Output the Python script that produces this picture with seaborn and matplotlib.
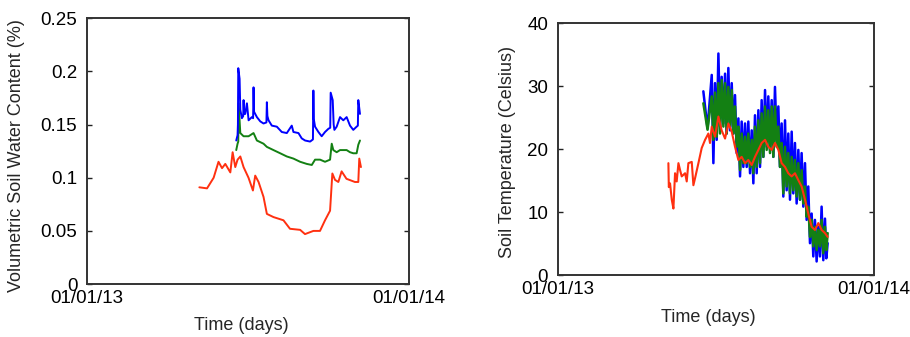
import numpy as np
import pandas as pd
import matplotlib
matplotlib.use("Agg")
import matplotlib.pyplot as plt
import seaborn as sns

# ---------------- data (day of year 2013) ----------------
# Volumetric soil water content
vwc_blue_days = [169.1, 170.6, 171.0, 171.4, 172.9, 173.7, 175.5, 177.0, 177.4, 178.0, 179.3, 181.2,
                 183.1, 186.8, 188.2, 188.7, 189.3, 190.6, 192.5, 196.3, 200.0, 203.3, 203.8, 204.4,
                 205.7, 209.4, 215.1, 220.7, 226.4, 232.0, 233.9, 239.6, 243.3, 247.1, 252.8, 256.0,
                 256.5, 257.0, 258.4, 262.2, 265.9, 269.7, 273.5, 275.6, 276.1, 278.4, 279.5, 280.3,
                 282.9, 286.7, 290.4, 294.2, 298.0, 301.7, 305.5, 306.9, 307.4, 309.3]
vwc_blue = [0.135, 0.140, 0.150, 0.203, 0.193, 0.164, 0.156, 0.158, 0.173, 0.160, 0.160, 0.170,
            0.154, 0.157, 0.156, 0.185, 0.162, 0.160, 0.157, 0.153, 0.151, 0.152, 0.171, 0.158,
            0.154, 0.149, 0.148, 0.143, 0.142, 0.149, 0.143, 0.142, 0.137, 0.135, 0.134, 0.136,
            0.182, 0.155, 0.148, 0.143, 0.139, 0.143, 0.146, 0.147, 0.180, 0.173, 0.150, 0.145,
            0.148, 0.157, 0.154, 0.157, 0.149, 0.145, 0.148, 0.149, 0.173, 0.160]

vwc_green_days = [169.1, 170.6, 171.4, 171.8, 173.7, 177.4, 183.1, 188.7, 192.5, 200.0, 203.8, 211.3,
                  218.9, 226.4, 233.9, 241.5, 249.0, 254.7, 258.4, 264.1, 269.7, 275.4, 277.3, 279.1,
                  282.9, 286.7, 294.2, 298.0, 301.7, 305.5, 307.4, 309.3]
vwc_green = [0.126, 0.132, 0.134, 0.170, 0.142, 0.139, 0.139, 0.142, 0.135, 0.132, 0.129, 0.126,
             0.123, 0.120, 0.118, 0.115, 0.113, 0.112, 0.117, 0.117, 0.115, 0.117, 0.132, 0.126,
             0.124, 0.126, 0.126, 0.124, 0.123, 0.123, 0.131, 0.135]

vwc_red_days = [127.3, 136.0, 143.5, 149.0, 153.0, 156.7, 162.4, 165.0, 168.0, 170.6, 173.7, 177.4,
                183.0, 188.0, 190.6, 194.4, 200.0, 203.8, 211.3, 222.6, 230.0, 241.5, 247.0, 256.5,
                264.0, 269.7, 275.4, 278.0, 281.0, 284.8, 288.5, 294.0, 303.6, 307.4, 308.5, 310.4]
vwc_red = [0.091, 0.090, 0.100, 0.115, 0.109, 0.113, 0.105, 0.124, 0.110, 0.117, 0.120, 0.110,
           0.100, 0.088, 0.102, 0.096, 0.082, 0.066, 0.063, 0.060, 0.052, 0.051, 0.047, 0.050,
           0.050, 0.060, 0.069, 0.104, 0.098, 0.096, 0.106, 0.099, 0.096, 0.096, 0.118, 0.110]

# Soil temperature: daily highs / lows of the two upper sensors
temp_days = [168.2, 177.9, 181.7, 185.6, 189.4, 193.3, 197.1, 201.0, 204.8, 208.7, 212.5, 216.4,
             220.2, 224.1, 227.9, 231.8, 235.6, 239.5, 243.3, 247.2, 251.0, 254.9, 258.7, 262.6,
             266.4, 270.3, 274.1, 278.0, 281.8, 285.7, 289.5, 293.4, 297.2, 301.1, 304.9, 308.8,
             311.9]
temp_blue_high = [29.2, 31.8, 30.5, 35.2, 31.5, 32.0, 32.9, 30.5, 28.6, 24.9, 24.4, 24.1,
                  24.4, 23.0, 25.4, 26.2, 27.8, 29.4, 28.4, 27.8, 29.9, 26.8, 24.1, 24.6,
                  22.5, 22.8, 21.0, 19.9, 19.4, 17.8, 14.1, 9.8, 8.8, 7.7, 10.9, 9.0,
                  5.1]
temp_blue_low = [23.3, 17.8, 21.5, 23.6, 24.1, 22.5, 23.0, 22.5, 19.4, 15.7, 17.2, 17.2,
                 16.2, 14.6, 16.2, 17.2, 18.8, 20.4, 19.9, 18.8, 21.5, 17.2, 12.5, 13.5,
                 12.0, 13.0, 11.4, 12.0, 10.9, 8.8, 5.1, 3.0, 2.2, 3.0, 2.4, 2.7,
                 2.4]
temp_green_high = [27.3, 28.4, 29.0, 30.5, 31.0, 30.5, 29.9, 29.4, 26.8, 23.6, 22.5, 22.0,
                   22.5, 21.5, 23.6, 24.6, 25.7, 26.8, 26.2, 26.8, 26.8, 23.6, 21.0, 20.4,
                   19.4, 18.8, 18.3, 17.8, 16.7, 14.1, 10.9, 8.8, 7.7, 7.2, 8.8, 7.7,
                   6.7]
temp_green_low = [23.1, 21.5, 22.0, 22.5, 23.6, 22.5, 23.6, 22.5, 20.4, 16.7, 17.8, 17.8,
                  17.2, 16.2, 17.2, 17.8, 18.8, 19.9, 19.4, 18.8, 20.4, 17.2, 13.0, 14.1,
                  13.0, 13.5, 12.5, 12.0, 11.4, 9.3, 6.1, 4.6, 4.0, 4.6, 3.5, 4.0,
                  3.5]

# deepest sensor
temp_red_days = [127.8, 128.3, 129.7, 131.7, 133.6, 135.5, 137.4, 139.4, 141.3, 143.2, 147.1, 149.0,
                 150.9, 154.8, 156.7, 158.6, 162.5, 166.3, 170.2, 174.0, 175.9, 177.9, 181.7, 185.6,
                 189.4, 193.3, 197.1, 201.0, 204.8, 208.7, 212.5, 216.4, 220.2, 224.1, 227.9, 231.8,
                 235.6, 239.5, 243.3, 247.2, 251.0, 254.9, 258.7, 262.6, 266.4, 270.3, 274.1, 278.0,
                 281.8, 285.7, 289.5, 293.4, 297.2, 301.1, 304.9, 308.8, 311.9]
temp_red = [17.8, 14.0, 14.6, 12.0, 10.6, 16.2, 14.9, 17.8, 16.7, 15.7, 16.2, 14.9,
            17.8, 18.0, 14.3, 15.4, 17.8, 20.2, 21.5, 22.5, 21.0, 23.6, 22.0, 25.2,
            23.0, 21.7, 24.1, 22.8, 20.4, 18.3, 18.8, 17.8, 18.3, 17.5, 18.8, 19.9,
            21.0, 21.5, 20.4, 19.9, 21.0, 19.9, 17.8, 17.2, 16.2, 15.7, 16.2, 15.1,
            14.1, 12.0, 9.8, 7.7, 7.2, 8.3, 7.2, 6.7, 6.1]

x_tick_days = [0, 365]
x_tick_labels = ["01/01/13", "01/01/14"]
vwc_ticks = [0, 0.05, 0.1, 0.15, 0.2, 0.25]
vwc_tick_labels = ["0", "0.05", "0.1", "0.15", "0.2", "0.25"]
temp_ticks = [0, 10, 20, 30, 40]
temp_tick_labels = ["0", "10", "20", "30", "40"]

BLUE = "#0000ff"
GREEN = "#138013"
RED = "#ff3010"


def diurnal(days, highs, lows):
    """Interleave daily highs and lows into one trace."""
    days = np.asarray(days, float)
    half = np.diff(days, append=days[-1] + (days[-1] - days[-2])) / 2.0
    x = np.column_stack([days, days + half]).ravel()[:-1]
    y = np.column_stack([highs, lows]).ravel()[:-1]
    return pd.DataFrame({"day": x, "value": y})


sns.set_style("white")
plt.rcParams["font.family"] = ["Liberation Sans", "DejaVu Sans"]

fig = plt.figure(figsize=(9.1, 3.37), dpi=100)
ax1 = fig.add_axes([0.0956, 0.157, 0.354, 0.789])
ax2 = fig.add_axes([0.613, 0.183, 0.347, 0.748])

lw = 1.4
sns.lineplot(x=vwc_red_days, y=vwc_red, ax=ax1, color=RED, lw=lw,
             estimator=None, sort=False)
sns.lineplot(x=vwc_green_days, y=vwc_green, ax=ax1, color=GREEN, lw=lw,
             estimator=None, sort=False)
sns.lineplot(x=vwc_blue_days, y=vwc_blue, ax=ax1, color=BLUE, lw=lw,
             estimator=None, sort=False)

blue_df = diurnal(temp_days, temp_blue_high, temp_blue_low)
green_df = diurnal(temp_days, temp_green_high, temp_green_low)
sns.lineplot(data=blue_df, x="day", y="value", ax=ax2, color=BLUE, lw=1.8,
             estimator=None, sort=False)
sns.lineplot(data=green_df, x="day", y="value", ax=ax2, color=GREEN, lw=1.8,
             estimator=None, sort=False)
sns.lineplot(x=temp_red_days, y=temp_red, ax=ax2, color=RED, lw=1.5,
             estimator=None, sort=False)

tick_fs = 13.5
label_fs = 13
for ax, ticks, labels, ylim in [(ax1, vwc_ticks, vwc_tick_labels, (0, 0.25)),
                                (ax2, temp_ticks, temp_tick_labels, (0, 40))]:
    ax.set_xlim(0, 365)
    ax.set_ylim(*ylim)
    ax.set_xticks(x_tick_days)
    ax.set_xticklabels(x_tick_labels, fontsize=tick_fs)
    ax.set_yticks(ticks)
    ax.set_yticklabels(labels, fontsize=tick_fs)
    ax.tick_params(axis="y", direction="in", length=3.5, width=1, left=True, right=True,
                   pad=7, colors="#222222", labelcolor="black")
    ax.tick_params(axis="x", length=0, pad=4, labelcolor="black")
    for s in ax.spines.values():
        s.set_visible(True)
        s.set_color("#333333")
        s.set_linewidth(1.4)

ax1.set_ylabel("Volumetric Soil Water Content (%)", fontsize=label_fs)
ax1.yaxis.set_label_coords(-0.193, 0.485)
ax1.set_xlabel("Time (days)", fontsize=label_fs)
ax1.xaxis.set_label_coords(0.48, -0.125)

ax2.set_ylabel("Soil Temperature (Celsius)", fontsize=label_fs)
ax2.yaxis.set_label_coords(-0.131, 0.49)
ax2.set_xlabel("Time (days)", fontsize=label_fs)
ax2.xaxis.set_label_coords(0.478, -0.135)

fig.savefig("out.png", dpi=100)
